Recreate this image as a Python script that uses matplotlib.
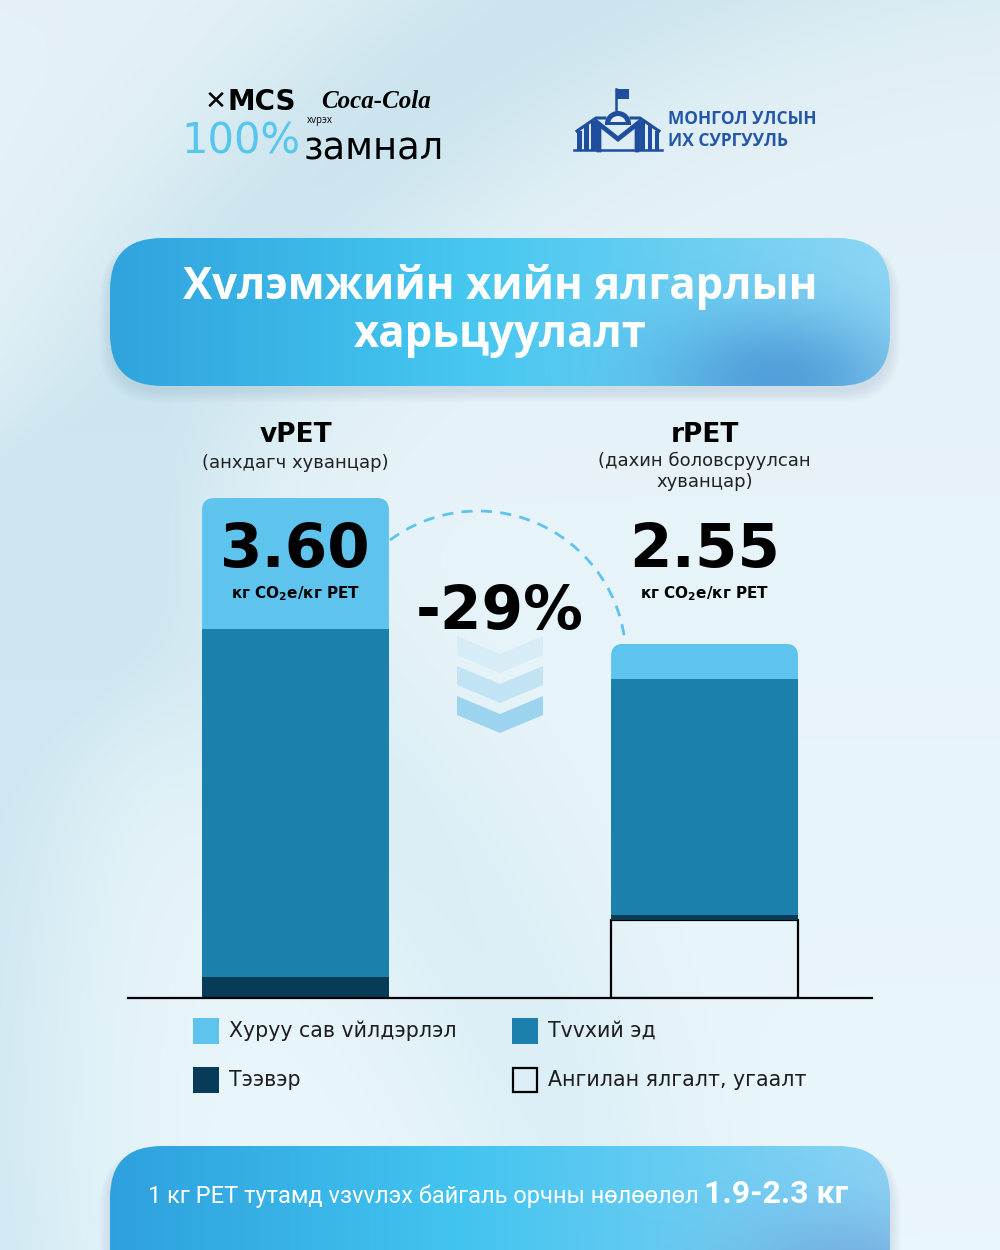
import numpy as np
import matplotlib
matplotlib.use('Agg')
import matplotlib.pyplot as plt
import matplotlib.transforms as mtrans
from matplotlib.patches import FancyBboxPatch, Rectangle, Polygon, Arc, Wedge

# ---------------- data ----------------
categories = ['vPET', 'rPET']
subtitles = ['(анхдагч хуванцар)', '(дахин боловсруулсан\nхуванцар)']
totals = [3.60, 2.55]
total_labels = ['3.60', '2.55']
unit_label = r'кг CO$_\mathbf{2}$e/кг PET'
# stack segments, bottom to top
sorting = [0.00, 0.56]     # Ангилан ялгалт, угаалт
transport = [0.15, 0.04]   # Тээвэр
raw = [2.51, 1.70]         # Тvvхий эд
preform = [0.94, 0.25]     # Хуруу сав vйлдэрлэл
seg_names = ['Хуруу сав vйлдэрлэл', 'Тvvхий эд', 'Тээвэр', 'Ангилан ялгалт, угаалт']
reduction_label = '-29%'
title = 'Хvлэмжийн хийн ялгарлын\nхарьцуулалт'
footer_text = '1 кг PET тутамд vзvvлэх байгаль орчны нөлөөлөл '
footer_bold = '1.9-2.3 кг'

C_LIGHT = '#5EC4EE'
C_MID = '#1C80AC'
C_DARK = '#073B58'

FONT = ['Open Sans', 'DejaVu Sans']
WIDE = ['DejaVu Sans']
plt.rcParams['font.family'] = FONT
plt.rcParams['mathtext.fontset'] = 'dejavusans'

fig = plt.figure(figsize=(10, 12.5), dpi=100)

# ---------------- background ----------------
bg = fig.add_axes([0, 0, 1, 1], zorder=0)
bg.set_xlim(0, 1000)
bg.set_ylim(1250, 0)
bg.axis('off')
yy, xx = np.mgrid[0:1250:2, 0:1000:2]
base = np.array([0.895, 0.945, 0.965])
dark = np.array([0.80, 0.895, 0.935])
d1 = np.hypot(xx - 1150, yy - 1050) - 1200
band = np.exp(-(d1 / 140.0) ** 2)
d2 = np.hypot(xx + 300, yy - 1400) - 900
band2 = np.exp(-(d2 / 120.0) ** 2) * 0.5
w = np.clip(band + band2, 0, 1)[..., None]
img = base * (1 - w) + dark * w
img = np.clip(img + 0.02 * (yy[..., None] / 1250.0), 0, 1)
bg.imshow(img, extent=[0, 1000, 1250, 0], aspect='auto', interpolation='bilinear', zorder=0)


def gradient_box(ax, x, y, w_, h, r, stops_left, stops_right, blob=None):
    for k in range(8):
        sh = FancyBboxPatch((x - k * 1.5, y + 6 - k * 0.5), w_ + k * 3, h + k * 2,
                            boxstyle=f'round,pad=0,rounding_size={r + k}',
                            facecolor='#6D8FA3', edgecolor='none', alpha=0.025, zorder=1)
        ax.add_patch(sh)
    gy, gx = np.mgrid[0:1:200j, 0:1:400j]
    cl = np.array(stops_left)
    cm = np.array(stops_right[0])
    cr = np.array(stops_right[1])
    t = gx[..., None]
    col = np.where(t < 0.45, cl * (1 - t / 0.45) + cm * (t / 0.45),
                   cm * (1 - (t - 0.45) / 0.55) + cr * ((t - 0.45) / 0.55))
    if blob is not None:
        bx, by, bsx, bsy, bc, ba = blob
        wb = ba * np.exp(-(((gx - bx) / bsx) ** 2 + ((gy - by) / bsy) ** 2))[..., None]
        col = col * (1 - wb) + np.array(bc) * wb
    im = ax.imshow(np.clip(col, 0, 1), extent=[x, x + w_, y + h, y], aspect='auto',
                   interpolation='bilinear', zorder=2)
    clip = FancyBboxPatch((x, y), w_, h, boxstyle=f'round,pad=0,rounding_size={r}',
                          facecolor='none', edgecolor='none', transform=ax.transData)
    ax.add_patch(clip)
    im.set_clip_path(clip)


gradient_box(bg, 110, 238, 780, 148, 52,
             [0.19, 0.64, 0.87], ([0.27, 0.78, 0.94], [0.56, 0.84, 0.96]),
             blob=(0.86, 0.95, 0.16, 0.45, [0.27, 0.56, 0.82], 0.75))
gradient_box(bg, 110, 1146, 780, 160, 52,
             [0.18, 0.63, 0.87], ([0.26, 0.77, 0.94], [0.55, 0.83, 0.96]),
             blob=(0.95, 0.85, 0.16, 0.45, [0.42, 0.62, 0.85], 0.7))

# ---------------- bars ----------------
ax = fig.add_axes([0.128, 1 - 998 / 1250, 0.744, 500 / 1250], zorder=2)
ax.patch.set_alpha(0)
ax.set_xlim(-0.4095, 1.4095)
ax.set_ylim(0, 3.60)
ax.axis('off')
x = np.arange(len(categories))
bw = 0.457
b0 = np.zeros(len(categories))
ax.bar(x, sorting, bw, bottom=b0, facecolor='none', edgecolor='black', linewidth=1.6, zorder=2)
b1 = b0 + np.array(sorting)
ax.bar(x, transport, bw, bottom=b1, color=C_DARK, zorder=2)
b2 = b1 + np.array(transport)
ax.bar(x, raw, bw, bottom=b2, color=C_MID, zorder=2)
b3 = b2 + np.array(raw)
top_bars = ax.bar(x, preform, bw, bottom=b3, color=C_LIGHT, zorder=2)
aspect = (409 / 138.9)
for i, rect in enumerate(top_bars):
    clip = FancyBboxPatch((x[i] - bw / 2, 0), bw, totals[i],
                          boxstyle='round,pad=0,rounding_size=0.03',
                          mutation_aspect=aspect, transform=ax.transData)
    rect.set_clip_path(clip)
ax.axhline(0, color='black', lw=1.6, clip_on=False, zorder=3)

sub_y = [3.85, 3.79]
for i in range(len(categories)):
    ax.text(x[i], 3.22, total_labels[i], ha='center', va='center', fontsize=44,
            fontweight='bold', color='black', zorder=4, family=WIDE)
    ax.text(x[i], 2.91, unit_label, ha='center', va='center', fontsize=11,
            fontweight='bold', color='black', zorder=4, family=WIDE)
    ax.text(x[i], 4.05, categories[i], ha='center', va='center', fontsize=19,
            fontweight='bold', color='black', clip_on=False, family=WIDE)
    ax.text(x[i], sub_y[i], subtitles[i], ha='center', va='center',
            fontsize=13, color='#222222', clip_on=False, linespacing=1.25, family=WIDE)

# ---------------- overlay ----------------
ov = fig.add_axes([0, 0, 1, 1], zorder=3)
ov.patch.set_alpha(0)
ov.set_xlim(0, 1000)
ov.set_ylim(1250, 0)
ov.axis('off')

ov.text(500, 311, title, ha='center', va='center', fontsize=31.5, fontweight='bold',
        color='white', linespacing=1.08)

arc = Arc((478, 659), 296, 296, angle=0, theta1=-126.5, theta2=-8,
          color=C_LIGHT, lw=2, linestyle=(0, (4, 3)))
ov.add_patch(arc)

chev_cols = ['#D6EDF7', '#C0E3F4', '#98D3F0']
for k, c in enumerate(chev_cols):
    y0 = 636 + 30 * k
    ov.add_patch(Polygon([(457, y0), (500, y0 + 18), (543, y0), (543, y0 + 19),
                          (500, y0 + 37), (457, y0 + 19)], closed=True,
                         facecolor=c, edgecolor='none', alpha=0.95))
ov.text(500, 612, reduction_label, ha='center', va='center', fontsize=43,
        fontweight='bold', color='black', family=WIDE)

# legend
legend_colors = [C_LIGHT, C_MID, C_DARK, 'none']
legend_pos = [(193, 1018), (512, 1018), (193, 1067), (512, 1067)]
for name, col, (lx, ly) in zip(seg_names, legend_colors, legend_pos):
    if col == 'none':
        ov.add_patch(Rectangle((lx + 1, ly + 1), 24, 24, facecolor='none',
                               edgecolor='black', lw=1.6))
    else:
        ov.add_patch(Rectangle((lx, ly), 26, 26, facecolor=col, edgecolor='none'))
    ov.text(lx + 36, ly + 13, name, ha='left', va='center', fontsize=14.8,
            color='#1E1E1E', family=WIDE)

# footer
t1 = ov.text(148, 1196, footer_text, ha='left', va='center', fontsize=17,
             color='white', family=['Roboto', 'DejaVu Sans'])
fig.canvas.draw()
bb = t1.get_window_extent()
ov.text(bb.x1, 1194, footer_bold, ha='left', va='center', fontsize=23,
        fontweight='bold', color='white', family=['Roboto', 'DejaVu Sans'],
        transform=mtrans.blended_transform_factory(mtrans.IdentityTransform(), ov.transData))

# ---------------- logos ----------------
ov.text(205, 102, '✕', ha='left', va='center', fontsize=19, fontweight='bold',
        color='black', family=['DejaVu Sans'])
ov.text(228, 102, 'MCS', ha='left', va='center', fontsize=20, fontweight='bold',
        color='black', family=['DejaVu Sans'])
ov.text(321, 101, 'Coca-Cola', ha='left', va='center', fontsize=18, fontweight='bold',
        style='italic', color='black', family=['Liberation Serif', 'DejaVu Serif'])
ov.text(181, 142, '100%', ha='left', va='center', fontsize=30, color='#57C6EC',
        family=['DejaVu Sans'])
ov.text(307, 121, 'хvрэх', ha='left', va='center', fontsize=7, color='black')
ov.text(304, 159, 'замнал', ha='left', va='baseline', fontsize=26.5, color='black',
        family=['DejaVu Sans'])

LB = '#1F4E9E'
cx = 618
ov.plot([cx - 2, cx - 2], [89, 112], color=LB, lw=1.8)
ov.add_patch(Rectangle((cx - 2, 89), 13, 10, facecolor=LB, edgecolor='none'))
ov.add_patch(Wedge((cx, 124), 13, 180, 360, facecolor=LB, edgecolor='none'))
ov.add_patch(Wedge((cx, 124), 8, 180, 360, facecolor='#E3F0F6', edgecolor='none'))
ov.add_patch(Rectangle((cx - 13, 122), 26, 3, facecolor=LB, edgecolor='none'))
for dx, ytop in [(41, 131), (34, 125), (27, 121)]:
    ov.add_patch(Rectangle((cx - dx, ytop), 4.5, 150 - ytop, facecolor=LB, edgecolor='none'))
    ov.add_patch(Rectangle((cx + dx - 4.5, ytop), 4.5, 150 - ytop, facecolor=LB, edgecolor='none'))
ov.plot([cx - 41, cx - 22, cx - 13], [131, 118, 118], color=LB, lw=2.2)
ov.plot([cx + 41, cx + 22, cx + 13], [131, 118, 118], color=LB, lw=2.2)
ov.plot([cx - 19, cx - 19, cx, cx + 19, cx + 19], [150, 124, 139, 124, 150], color=LB,
        lw=3.4, solid_joinstyle='miter')
ov.plot([cx - 22, cx - 22], [120, 150], color=LB, lw=1.4)
ov.plot([cx + 22, cx + 22], [120, 150], color=LB, lw=1.4)
ov.plot([cx - 44, cx + 44], [149.5, 149.5], color=LB, lw=1.8)
ov.text(668, 119, 'МОНГОЛ УЛСЫН', ha='left', va='center', fontsize=12.5,
        fontweight='bold', color='#2457A8')
ov.text(668, 141, 'ИХ СУРГУУЛЬ', ha='left', va='center', fontsize=12.5,
        fontweight='bold', color='#2457A8')

fig.savefig('out.png', dpi=100)
